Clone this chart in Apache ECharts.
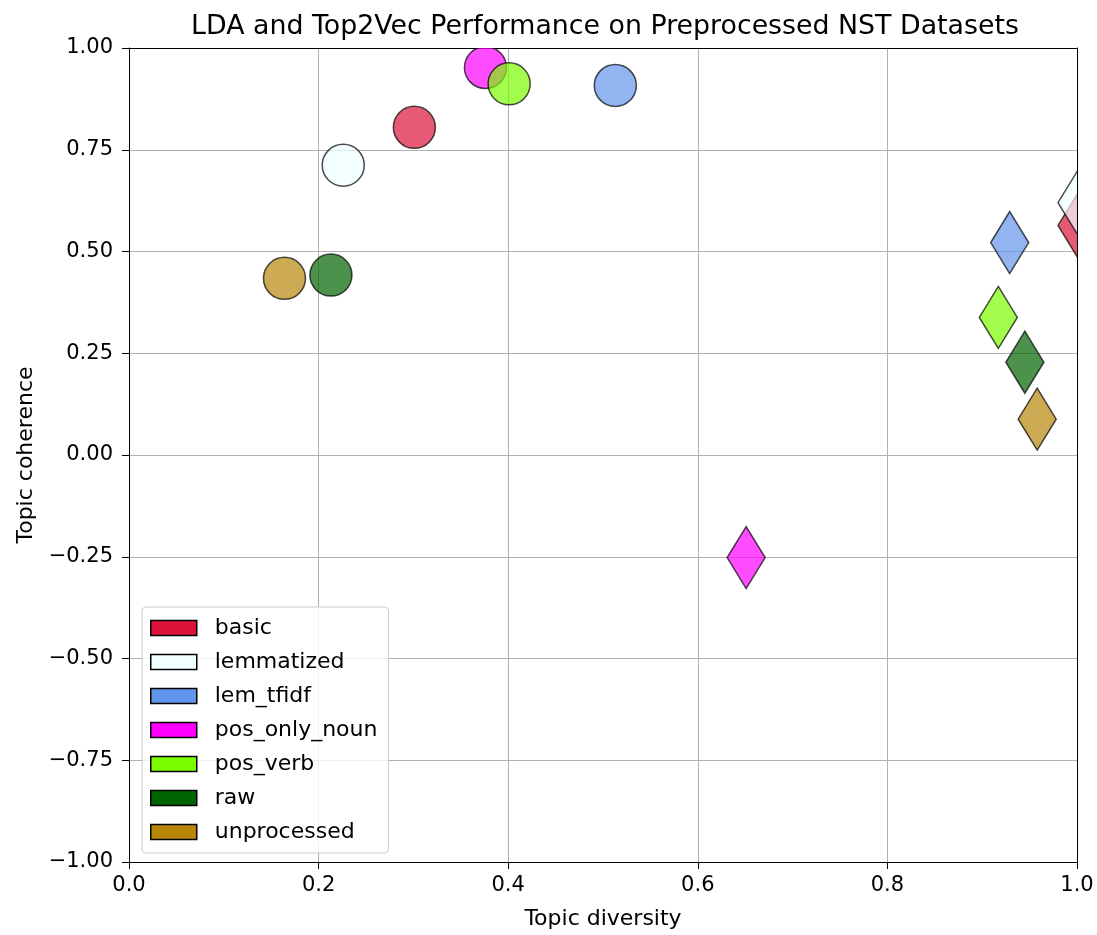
<!DOCTYPE html>
<html>
<head>
<meta charset="utf-8">
<script src="https://cdn.jsdelivr.net/npm/echarts@6/dist/echarts.min.js"></script>
<style>
  html, body { margin: 0; padding: 0; background: #fff; }
  #chart { width: 1097px; height: 935px; }
</style>
</head>
<body>
<div id="chart"></div>
<script>
// datasets and their colours (matplotlib named colours)
const datasets = ['basic', 'lemmatized', 'lem_tfidf', 'pos_only_noun', 'pos_verb', 'raw', 'unprocessed'];
const colors = ['#DC143C', '#F0FFFF', '#6495ED', '#FF00FF', '#7CFC00', '#006400', '#B8860B'];

// LDA results (circles)
const ldaDiversity = [0.301, 0.226, 0.513, 0.376, 0.401, 0.213, 0.164];
const ldaCoherence = [0.805, 0.712, 0.908, 0.952, 0.912, 0.442, 0.434];

// Top2Vec results (diamonds)
const t2vDiversity = [1.0, 1.0, 0.929, 0.651, 0.917, 0.945, 0.958];
const t2vCoherence = [0.564, 0.620, 0.522, -0.252, 0.338, 0.228, 0.088];

const chart = echarts.init(document.getElementById('chart'));
const font = 'DejaVu Sans';

const minus = (s) => s.replace('-', '\u2212');

function renderItem(params, api) {
  const p = api.coord([api.value(0), api.value(1)]);
  const model = api.value(2);
  const style = { fill: api.visual('color'), stroke: '#000', lineWidth: 1.5, opacity: 0.7 };
  if (model === 0) {
    return { type: 'circle', shape: { cx: p[0], cy: p[1], r: 21 }, style: style };
  }
  const w = 19, h = 31;
  return {
    type: 'polygon',
    shape: { points: [[p[0], p[1] - h], [p[0] + w, p[1]], [p[0], p[1] + h], [p[0] - w, p[1]]] },
    style: style
  };
}

const series = datasets.map((name, i) => ({
  name: name,
  type: 'custom',
  clip: true,
  renderItem: renderItem,
  itemStyle: { color: colors[i] },
  encode: { x: 0, y: 1 },
  data: [
    [ldaDiversity[i], ldaCoherence[i], 0],
    [t2vDiversity[i], t2vCoherence[i], 1]
  ]
}));

// plain black frame on top and right
const frame = { show: true, onZero: false, lineStyle: { color: '#000', width: 1 } };

chart.setOption({
  animation: false,
  backgroundColor: '#fff',
  textStyle: { fontFamily: font },
  title: {
    text: 'LDA and Top2Vec Performance on Preprocessed NST Datasets',
    left: 600,
    textAlign: 'center',
    top: 9,
    textStyle: { fontFamily: font, fontSize: 26.8, fontWeight: 'normal', color: '#000' }
  },
  grid: { left: 129, right: 20, top: 48, bottom: 72 },
  legend: {
    orient: 'vertical',
    left: 142, top: 607,
    padding: [10, 11, 10, 8],
    itemWidth: 46, itemHeight: 15,
    itemGap: 12,
    backgroundColor: 'rgba(255,255,255,0.8)',
    borderColor: '#cccccc', borderWidth: 1, borderRadius: 4,
    textStyle: { fontFamily: font, fontSize: 22, color: '#000', padding: [0, 0, 0, 13] },
    data: datasets.map((name, i) => ({
      name: name,
      icon: 'rect',
      itemStyle: { color: colors[i], borderColor: '#000', borderWidth: 1.5, opacity: 1 }
    }))
  },
  xAxis: [{
    type: 'value',
    min: 0, max: 1, interval: 0.2,
    name: 'Topic diversity',
    nameLocation: 'middle',
    nameGap: 46,
    nameTextStyle: { fontFamily: font, fontSize: 22, color: '#000' },
    axisLine: { show: true, onZero: false, lineStyle: { color: '#000', width: 1 } },
    axisTick: { show: true, length: 7, lineStyle: { color: '#000' } },
    axisLabel: {
      fontFamily: font, fontSize: 21, color: '#000', margin: 13,
      formatter: (v) => minus(v.toFixed(1))
    },
    splitLine: { show: true, lineStyle: { color: '#b0b0b0', width: 1 } }
  }, {
    type: 'value', position: 'top', min: 0, max: 1,
    axisLine: frame, axisTick: { show: false }, axisLabel: { show: false }, splitLine: { show: false }
  }],
  yAxis: [{
    type: 'value',
    min: -1, max: 1, interval: 0.25,
    name: 'Topic coherence',
    nameLocation: 'middle',
    nameGap: 92,
    nameTextStyle: { fontFamily: font, fontSize: 22, color: '#000' },
    axisLine: { show: true, onZero: false, lineStyle: { color: '#000', width: 1 } },
    axisTick: { show: true, length: 7, lineStyle: { color: '#000' } },
    axisLabel: {
      fontFamily: font, fontSize: 21, color: '#000', margin: 16,
      formatter: (v) => minus(v.toFixed(2))
    },
    splitLine: { show: true, lineStyle: { color: '#b0b0b0', width: 1 } }
  }, {
    type: 'value', position: 'right', min: -1, max: 1,
    axisLine: frame, axisTick: { show: false }, axisLabel: { show: false }, splitLine: { show: false }
  }],
  series: series
});
</script>
</body>
</html>
